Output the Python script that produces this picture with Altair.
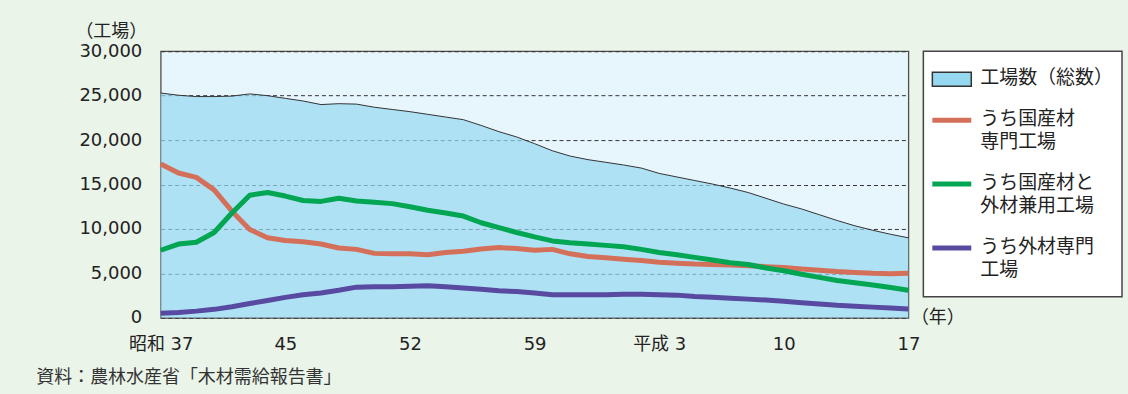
import json

import altair as alt
import pandas as pd

# 製材工場数の推移（昭和37年〜平成17年）
x_tick_labels = ["昭和 37", "45", "52", "59", "平成 3", "10", "17"]

series_names = [
    "工場数（総数）",
    "うち国産材\n専門工場",
    "うち国産材と\n外材兼用工場",
    "うち外材専門\n工場",
]

total = [25300, 25050, 24900, 24900, 24950, 25200, 25000, 24700, 24400, 24000,
         24100, 24050, 23700, 23450, 23200, 22900, 22600, 22300, 21650, 20950,
         20350, 19600, 18800, 18200, 17800, 17500, 17200, 16850, 16250, 15850,
         15450, 15050, 14600, 14100, 13450, 12800, 12250, 11600, 10950, 10350,
         9850, 9400, 9000]

domestic = [17300, 16300, 15800, 14400, 12000, 9950, 9000, 8700, 8550, 8300,
            7850, 7700, 7250, 7200, 7200, 7100, 7350, 7500, 7750, 7900,
            7800, 7600, 7700, 7200, 6900, 6750, 6600, 6450, 6250, 6150,
            6050, 6000, 5950, 5850, 5750, 5650, 5500, 5350, 5200, 5100,
            5000, 4950, 5000]

mixed = [7600, 8300, 8500, 9600, 11800, 13800, 14100, 13700, 13200, 13100,
         13450, 13150, 13000, 12850, 12500, 12100, 11800, 11450, 10700, 10150,
         9600, 9100, 8650, 8450, 8300, 8150, 8000, 7700, 7350, 7100,
         6800, 6500, 6200, 6000, 5600, 5300, 4900, 4550, 4200, 3950,
         3700, 3400, 3100]

imported = [500, 600, 750, 950, 1250, 1600, 1950, 2300, 2600, 2800,
            3100, 3450, 3500, 3500, 3550, 3600, 3500, 3350, 3200, 3050,
            2950, 2800, 2600, 2600, 2600, 2600, 2650, 2650, 2600, 2550,
            2400, 2300, 2200, 2100, 2000, 1850, 1700, 1550, 1400, 1300,
            1200, 1100, 1000]

source_note = "資料：農林水産省「木材需給報告書」"

# colours
BG = "#EAF4E9"
PLOT_BG = "#E7F6FD"
AREA = "#96D8F0"
LINE_COLORS = ["#D4705A", "#00A651", "#574AA0"]
CJK = "Noto Sans CJK JP"
NUM = "DejaVu Sans, Noto Sans CJK JP"
INK = "#222222"

n = len(total)
steps = list(range(n))
tick_pos = [k * (n - 1) // (len(x_tick_labels) - 1) for k in range(len(x_tick_labels))]
label_expr = (f"{json.dumps(x_tick_labels, ensure_ascii=False)}"
              f"[indexof({json.dumps(tick_pos)}, datum.value)]")

W, H = 749, 267

x_enc = alt.X(
    "t:Q",
    scale=alt.Scale(domain=[0, n - 1], nice=False, zero=False),
    axis=alt.Axis(
        values=tick_pos, labelExpr=label_expr, ticks=False, domain=False, grid=False,
        labelPadding=18, labelFont=NUM, labelFontSize=18, labelColor=INK,
        labelFlush=False, labelOverlap=False, labelBound=False,
        title="（年）", titleX=W + 2, titleY=0, titleAlign="left",
        titleBaseline="middle", titleAngle=0, titleFont=CJK, titleFontSize=18,
        titleFontWeight="normal", titleColor=INK,
    ),
)
y_enc = alt.Y(
    "v:Q",
    scale=alt.Scale(domain=[0, 30000], nice=False),
    axis=alt.Axis(
        values=list(range(0, 30001, 5000)), format=",d", ticks=False, domain=False,
        labelPadding=19, labelFont=NUM, labelFontSize=18, labelColor=INK,
        grid=True, gridDash=[4, 3], gridColor="#333333", gridWidth=1,
        title="（工場）", titleAngle=0, titleX=-50, titleY=-20,
        titleAlign="center", titleBaseline="middle", titleFont=CJK,
        titleFontSize=18, titleFontWeight="normal", titleColor=INK,
    ),
)

df_total = pd.DataFrame({"t": steps, "v": total})
area = alt.Chart(df_total).mark_area(
    color=AREA, line={"color": "#333333", "strokeWidth": 1}
).encode(x=x_enc, y=y_enc)

# draw order: imported (bottom), domestic, mixed (top)
line_layers = []
for vals, color in [(imported, LINE_COLORS[2]), (domestic, LINE_COLORS[0]), (mixed, LINE_COLORS[1])]:
    d = pd.DataFrame({"t": steps, "v": vals})
    line_layers.append(
        alt.Chart(d).mark_line(color=color, strokeWidth=5, strokeCap="butt", strokeJoin="round")
        .encode(x="t:Q", y="v:Q")
    )

main = alt.layer(area, *line_layers).properties(
    width=W, height=H,
    view=alt.ViewBackground(fill=PLOT_BG, stroke="#4d4d4d", strokeWidth=1.3),
)

# legend panel
LW, LH = 199, 246
LINE_H, GAP, TOP = 23, 18, 28
leg = pd.DataFrame({
    "name": series_names,
    "kind": ["area", "line", "line", "line"],
    "color": [AREA] + LINE_COLORS,
})
slots, ypos = [], TOP
for name in series_names:
    slots.append(ypos)
    ypos += (name.count("\n") + 1) * LINE_H + GAP
leg["y"] = slots
leg["y0"] = leg["y"] - 7
leg["y1"] = leg["y"] + 7

ys = alt.Scale(domain=[0, LH], range=[0, LH])
swatch = alt.Chart(leg).transform_filter(alt.datum.kind == "area").mark_rect(
    fill=AREA, stroke="#333333", strokeWidth=1.5
).encode(x=alt.value(9), x2=alt.value(48),
         y=alt.Y("y0:Q", scale=ys, axis=None), y2="y1:Q")
keys = alt.Chart(leg).transform_filter(alt.datum.kind == "line").mark_rule(
    strokeWidth=5
).encode(x=alt.value(9), x2=alt.value(48),
         y=alt.Y("y:Q", scale=ys, axis=None),
         color=alt.Color("color:N", scale=None))
names = alt.Chart(leg).mark_text(
    align="left", baseline="top", dy=-10, lineBreak="\n", lineHeight=LINE_H,
    font=CJK, fontSize=19, color=INK,
).encode(x=alt.value(57), y=alt.Y("y:Q", scale=ys, axis=None), text="name:N")

legend = alt.layer(swatch, keys, names).properties(
    width=LW, height=LH,
    view=alt.ViewBackground(fill="white", stroke="#444444", strokeWidth=1.5),
)

chart = alt.hconcat(main, legend, spacing=15, bounds="flush").properties(
    background=BG,
    padding={"left": 36, "top": 21, "right": 5, "bottom": 6},
    title=alt.TitleParams(
        source_note, orient="bottom", anchor="start", dx=-38, offset=15,
        font=CJK, fontSize=18, fontWeight="normal", color="#333333",
    ),
)

chart.save("out.html", embed_options={"renderer": "svg", "actions": False})
